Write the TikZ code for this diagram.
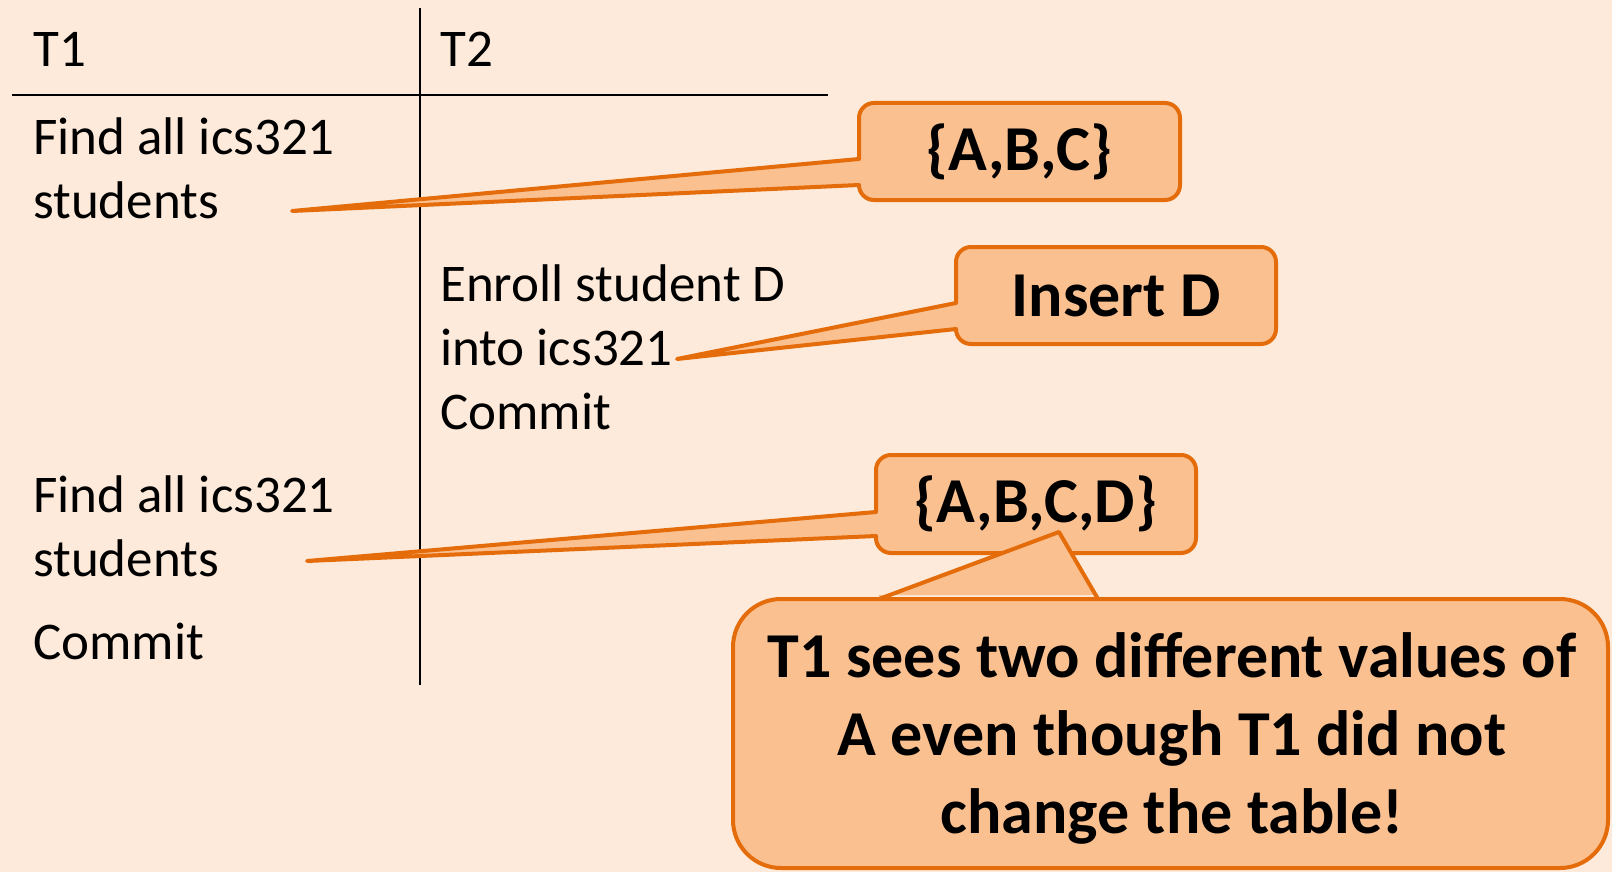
\documentclass[tikz,border=0pt]{standalone}
\usepackage{fontspec}
\setmainfont{Carlito}
\definecolor{bg}{HTML}{FDEADA}
\definecolor{cfill}{HTML}{FAC090}
\definecolor{cline}{HTML}{E46C0A}
\tikzset{
  body/.style={anchor=base west, inner sep=0pt, font=\fontsize{53}{64}\selectfont},
  callbox/.style={draw=cline, fill=cfill, line width=4pt, rounded corners=15pt, inner sep=0pt},
  calltext/.style={font=\fontsize{64}{78}\selectfont\bfseries, inner sep=0pt, align=center},
  tailfill/.style={fill=cfill},
  tailline/.style={draw=cline, line width=4pt, line join=round, line cap=round},
  rule/.style={line width=2pt, black}
}
\begin{document}
\begin{tikzpicture}[x=1pt,y=-1pt]
\fill[bg] (0,0) rectangle (1612,872);
\useasboundingbox (0,0) rectangle (1612,872);

% table lines
\coordinate (vtop) at (420,8);
\coordinate (vbot) at (420,685);
\coordinate (hl) at (12,95);
\coordinate (hr) at (828,95);
\draw[rule] (vtop) -- (vbot);
\draw[rule] (hl) -- (hr);

% texts
\node[body] (t1) at (33,67) {T1};
\node[body] (t2) at (440,67) {T2};
\node[body] (f1a) at (33,154) {Find all ics321};
\node[body] (f1b) at (33,218) {students};
\node[body] (e1) at (440,301) {Enroll student D};
\node[body] (e2) at (440,365) {into ics321};
\node[body] (e3) at (440,429) {Commit};
\node[body] (f2a) at (33,512) {Find all ics321};
\node[body] (f2b) at (33,576) {students};
\node[body] (c1) at (33,659) {Commit};

% callout 1 {A,B,C}
\node[callbox, minimum width=321pt, minimum height=97pt] (abc) at (1019.5,151.5) {};
\coordinate (abctip) at (292,211);
\coordinate (abcb1) at (859,159);
\coordinate (abcb2) at (859,185);
\fill[tailfill] (abctip) -- (abcb1) -- ([xshift=4pt]abcb1) -- ([xshift=4pt]abcb2) -- (abcb2) -- cycle;
\draw[tailline] (abcb1) -- (abctip) -- (abcb2);
\node[calltext] (abct) at (abc.center) {\{A,B,C\}};

% callout 2 Insert D
\node[callbox, minimum width=320pt, minimum height=97pt] (ins) at (1116,295.5) {};
\coordinate (instip) at (677,359);
\coordinate (insb1) at (956,303);
\coordinate (insb2) at (956,329);
\fill[tailfill] (instip) -- (insb1) -- ([xshift=4pt]insb1) -- ([xshift=4pt]insb2) -- (insb2) -- cycle;
\draw[tailline] (insb1) -- (instip) -- (insb2);
\node[calltext] (inst) at (ins.center) {Insert D};

% callout 3 {A,B,C,D}
\node[callbox, minimum width=320pt, minimum height=98pt] (abcd) at (1036,504) {};
\coordinate (abcdtip) at (307,561);
\coordinate (abcdb1) at (876,512);
\coordinate (abcdb2) at (876,536);
\fill[tailfill] (abcdtip) -- (abcdb1) -- ([xshift=4pt]abcdb1) -- ([xshift=4pt]abcdb2) -- (abcdb2) -- cycle;
\draw[tailline] (abcdb1) -- (abcdtip) -- (abcdb2);
\node[calltext] (abcdt) at (abcd.center) {\{A,B,C,D\}};

% big callout
\node[callbox, rounded corners=48pt, minimum width=875pt, minimum height=269pt] (big) at (1170.5,733.5) {};
\coordinate (bigtip) at (1059,532);
\coordinate (bigb1) at (879,599);
\coordinate (bigb2) at (1098,599);
\fill[tailfill] (bigtip) -- (bigb1) -- ([yshift=4pt]bigb1) -- ([yshift=4pt]bigb2) -- (bigb2) -- cycle;
\draw[tailline] (bigb1) -- (bigtip) -- (bigb2);
\node[calltext] (bigt) at (1172,738) {T1 sees two different values of\\A even though T1 did not\\change the table!};
\end{tikzpicture}
\end{document}
